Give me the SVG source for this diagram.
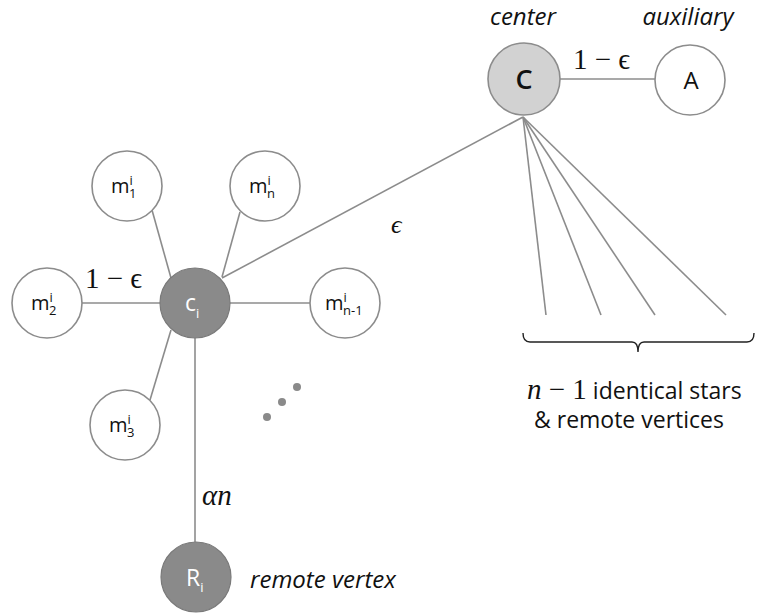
<svg xmlns="http://www.w3.org/2000/svg" width="771" height="615" viewBox="0 0 771 615">
<style>
.edge{stroke:#8c8c8c;stroke-width:1.6;fill:none}
.wn{fill:#ffffff;stroke:#8c8c8c;stroke-width:1.6}
.dn{fill:#8a8a8a;stroke:#7a7a7a;stroke-width:1.2}
.ln{fill:#d2d2d2;stroke:#8c8c8c;stroke-width:1.6}
.lbl{font-family:'Open Sans','Liberation Sans',sans-serif;font-size:20px;fill:#111}
.wl{font-family:'Open Sans','Liberation Sans',sans-serif;font-size:23px;fill:#ffffff}
.sm{font-size:13px}
.it{font-family:'Open Sans','Liberation Sans',sans-serif;font-style:italic;font-size:24px;fill:#111}
.math{font-family:'Liberation Serif','DejaVu Serif',serif;font-size:29px;fill:#111}
.mi{font-style:italic}
.txt{font-family:'Open Sans','Liberation Sans',sans-serif;font-size:23px;fill:#111}
</style>
<rect width="771" height="615" fill="#ffffff"/>
<g id="connectors">
<line class="edge" x1="560" y1="79" x2="655" y2="79"/>
<line class="edge" x1="523" y1="117" x2="222" y2="278"/>
<line class="edge" x1="523" y1="117" x2="546" y2="315"/>
<line class="edge" x1="523" y1="117" x2="601" y2="315"/>
<line class="edge" x1="523" y1="117" x2="655" y2="315"/>
<line class="edge" x1="523" y1="117" x2="726" y2="315"/>
<line class="edge" x1="152" y1="210" x2="171" y2="278"/>
<line class="edge" x1="240" y1="212" x2="222" y2="277"/>
<line class="edge" x1="82" y1="303" x2="160" y2="303"/>
<line class="edge" x1="230" y1="303" x2="310" y2="303"/>
<line class="edge" x1="171" y1="330" x2="150" y2="400"/>
<line class="edge" x1="195" y1="338" x2="195" y2="542"/>
</g>
<g id="center">
<circle class="ln" cx="524" cy="79" r="36"/>
<text class="lbl" x="524" y="89" text-anchor="middle" style="font-size:27px;font-weight:600">C</text>
<text class="it" x="523" y="25" text-anchor="middle">center</text>
</g>
<g id="auxiliary">
<circle class="wn" cx="690" cy="80" r="35"/>
<text class="lbl" x="691" y="89" text-anchor="middle" style="font-size:24px">A</text>
<text class="it" x="688" y="25" text-anchor="middle">auxiliary</text>
</g>
<g id="ci">
<circle class="dn" cx="195" cy="303" r="35"/>
<text class="wl" x="185" y="311">c<tspan class="sm" dy="7">i</tspan></text>
</g>
<g id="m1">
<circle class="wn" cx="127" cy="186" r="35"/>
<text class="lbl" x="111" y="193">m<tspan class="sm" dy="-8">i</tspan><tspan class="sm" x="129" dy="13">1</tspan></text>
</g>
<g id="mn">
<circle class="wn" cx="265" cy="186" r="35"/>
<text class="lbl" x="249" y="193">m<tspan class="sm" dy="-8">i</tspan><tspan class="sm" x="267" dy="13">n</tspan></text>
</g>
<g id="m2">
<circle class="wn" cx="47" cy="303" r="35"/>
<text class="lbl" x="31" y="310">m<tspan class="sm" dy="-8">i</tspan><tspan class="sm" x="49" dy="13">2</tspan></text>
</g>
<g id="mn-1">
<circle class="wn" cx="345" cy="303" r="35"/>
<text class="lbl" x="325" y="310">m<tspan class="sm" dy="-8">i</tspan><tspan class="sm" x="343" dy="13">n-1</tspan></text>
</g>
<g id="m3">
<circle class="wn" cx="125" cy="425" r="35"/>
<text class="lbl" x="109" y="432">m<tspan class="sm" dy="-8">i</tspan><tspan class="sm" x="127" dy="13">3</tspan></text>
</g>
<g id="Ri">
<circle class="dn" cx="196" cy="577" r="35"/>
<text class="wl" x="186" y="586">R<tspan class="sm" dy="6">i</tspan></text>
<text class="it" x="250" y="588">remote vertex</text>
</g>
<g id="dots" fill="#8a8a8a">
<circle cx="297" cy="387" r="4"/>
<circle cx="282" cy="402" r="4"/>
<circle cx="267" cy="417" r="4"/>
</g>
<g id="labels">
<text class="math" x="573" y="69">1 − ϵ</text>
<text class="math" x="85" y="288">1 − ϵ</text>
<text class="math mi" x="391" y="233" style="font-size:26px">ϵ</text>
<text class="math mi" x="202" y="505">αn</text>
</g>
<g id="bracket">
<path d="M523,333 Q523,342 530,342 L632,342 Q638,342 638,352 Q638,342 644,342 L747,342 Q754,342 754,333" style="fill:none;stroke:#222;stroke-width:1.4"/>
<text class="txt" x="527" y="399"><tspan class="math mi">n</tspan><tspan class="math"> − 1</tspan> identical stars</text>
<text class="txt" x="534" y="428">&amp; remote vertices</text>
</g>
</svg>
